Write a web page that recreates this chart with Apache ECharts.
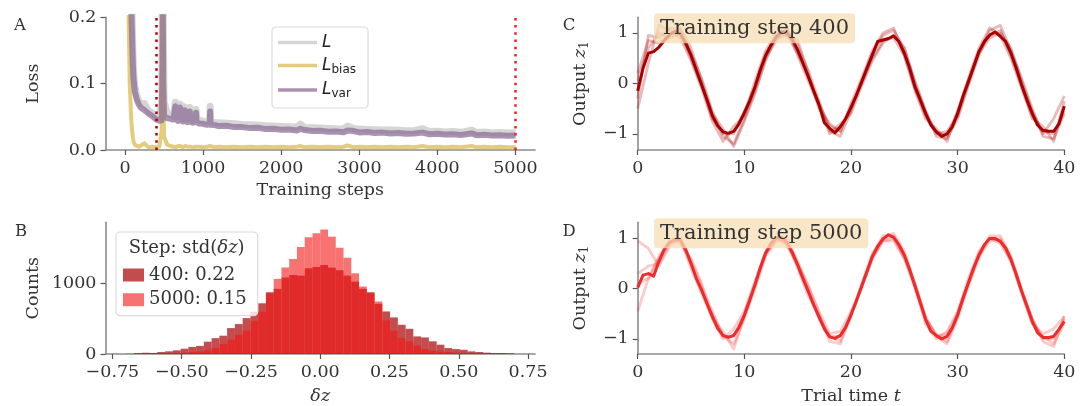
<!DOCTYPE html>
<html>
<head>
<meta charset="utf-8">
<script src="https://cdn.jsdelivr.net/npm/echarts@6.0.0/dist/echarts.min.js"></script>
<style>
  html, body { margin: 0; padding: 0; background: #fff; }
  #chart { width: 1091px; height: 406px; }
</style>
</head>
<body>
<div id="chart"></div>
<script>
// ---- panel A: losses over training ----
const stepsA = [0, 40, 60, 80, 90, 100, 110, 125, 150, 175,
  200, 250, 300, 350, 400, 440, 470, 478, 484, 490,
  500, 540, 580, 620, 640, 645, 650, 680, 700, 705,
  710, 740, 760, 765, 770, 800, 825, 830, 835, 870,
  905, 910, 915, 950, 1000, 1050, 1085, 1090, 1095, 1150,
  1200, 1300, 1400, 1500, 1600, 1700, 1800, 1900, 2000, 2100,
  2200, 2245, 2300, 2400, 2500, 2600, 2700, 2800, 2850, 2930,
  3000, 3100, 3200, 3300, 3400, 3500, 3600, 3700, 3810, 3900,
  4000, 4100, 4200, 4300, 4440, 4500, 4600, 4700, 4800, 4900,
  5000];
const lossTotal = [1.8, 0.75, 0.42, 0.265, 0.20, 0.15, 0.117, 0.096, 0.082, 0.074,
  0.070, 0.070, 0.059, 0.056, 0.050, 0.049, 0.075, 0.24, 0.42, 0.18,
  0.072, 0.056, 0.053, 0.051, 0.054, 0.072, 0.050, 0.050, 0.051, 0.069,
  0.051, 0.047, 0.050, 0.065, 0.050, 0.047, 0.048, 0.064, 0.049, 0.045,
  0.048, 0.061, 0.048, 0.045, 0.0435, 0.043, 0.045, 0.066, 0.043, 0.0415,
  0.041, 0.0405, 0.0395, 0.0385, 0.038, 0.0375, 0.0365, 0.036, 0.0355, 0.035,
  0.0345, 0.039, 0.034, 0.0335, 0.033, 0.0325, 0.032, 0.0318, 0.036, 0.0325,
  0.0315, 0.031, 0.0305, 0.030, 0.030, 0.0296, 0.029, 0.029, 0.032, 0.028,
  0.0284, 0.0272, 0.0278, 0.0266, 0.030, 0.0264, 0.027, 0.0258, 0.0264, 0.0255,
  0.026];
const lossBias = [0.9, 0.25, 0.10, 0.045, 0.03, 0.02, 0.012, 0.008, 0.006, 0.005,
  0.006, 0.010, 0.004, 0.005, 0.004, 0.005, 0.030, 0.12, 0.21, 0.08,
  0.020, 0.008, 0.006, 0.005, 0.007, 0.005, 0.004, 0.006, 0.005, 0.004,
  0.006, 0.004, 0.005, 0.004, 0.006, 0.005, 0.004, 0.005, 0.006, 0.004,
  0.005, 0.004, 0.006, 0.005, 0.004, 0.005, 0.006, 0.008, 0.005, 0.004,
  0.005, 0.004, 0.005, 0.004, 0.005, 0.004, 0.005, 0.004, 0.005, 0.004,
  0.005, 0.006, 0.004, 0.005, 0.004, 0.005, 0.004, 0.005, 0.007, 0.004,
  0.005, 0.004, 0.005, 0.004, 0.005, 0.004, 0.005, 0.004, 0.006, 0.004,
  0.005, 0.004, 0.005, 0.004, 0.006, 0.004, 0.005, 0.004, 0.005, 0.004,
  0.004];
const lossVar = [0.9, 0.5, 0.32, 0.22, 0.17, 0.13, 0.105, 0.088, 0.076, 0.069,
  0.064, 0.060, 0.055, 0.051, 0.046, 0.044, 0.045, 0.12, 0.21, 0.10,
  0.052, 0.048, 0.047, 0.046, 0.047, 0.066, 0.046, 0.044, 0.046, 0.064,
  0.045, 0.043, 0.045, 0.060, 0.044, 0.042, 0.044, 0.058, 0.043, 0.041,
  0.043, 0.056, 0.042, 0.040, 0.0395, 0.038, 0.039, 0.058, 0.038, 0.0375,
  0.036, 0.0365, 0.0345, 0.0345, 0.033, 0.0335, 0.0315, 0.032, 0.0305, 0.0310,
  0.0295, 0.032, 0.0300, 0.0285, 0.0290, 0.0275, 0.0280, 0.0268, 0.0295, 0.0285,
  0.0265, 0.0270, 0.0255, 0.0262, 0.0250, 0.0256, 0.0244, 0.0250, 0.0262, 0.0238,
  0.0244, 0.0232, 0.0238, 0.0226, 0.0250, 0.0224, 0.0230, 0.0218, 0.0224, 0.0215,
  0.0220];
const markSteps = [400, 5000];
const stepTicks = [0, 1000, 2000, 3000, 4000, 5000];
const lossTicks = [0, 0.1, 0.2];

// ---- panel B: histograms of delta z ----
const binEdges = [-0.700, -0.672, -0.644, -0.616, -0.588, -0.560, -0.532, -0.504, -0.476, -0.448,
  -0.420, -0.392, -0.364, -0.336, -0.308, -0.280, -0.252, -0.224, -0.196, -0.168,
  -0.140, -0.112, -0.084, -0.056, -0.028, 0.000, 0.028, 0.056, 0.084, 0.112,
  0.140, 0.168, 0.196, 0.224, 0.252, 0.280, 0.308, 0.336, 0.364, 0.392,
  0.420, 0.448, 0.476, 0.504, 0.532, 0.560, 0.588, 0.616, 0.644, 0.672,
  0.700];
const counts400 = [3, 12, 18, 15, 28, 38, 52, 75, 100, 115,
  175, 225, 260, 368, 425, 510, 600, 720, 877, 925,
  1085, 1123, 1113, 1217, 1236, 1264, 1227, 1189, 1113, 1028,
  925, 877, 712, 604, 519, 415, 358, 250, 235, 180,
  132, 84, 70, 60, 37, 28, 19, 14, 14, 9];
const counts5000 = [0, 3, 5, 5, 8, 10, 14, 18, 25, 37,
  51, 84, 141, 202, 273, 330, 470, 600, 860, 1066,
  1227, 1349, 1519, 1656, 1713, 1769, 1666, 1510, 1368, 1146,
  958, 860, 745, 476, 330, 226, 179, 117, 70, 47,
  37, 28, 18, 14, 10, 8, 5, 5, 3, 2];
const stepLabels = ['400: 0.22', '5000: 0.15'];
const dzTicks = [-0.75, -0.5, -0.25, 0, 0.25, 0.5, 0.75];
const countTicks = [0, 1000];

// ---- panels C, D: output traces (main at dt 0.5, single trials at dt 1) ----
const mainC = [-0.15, 0.30, 0.60, 0.63, 0.72, 0.85, 0.97, 1.03, 0.98, 0.80,
  0.56, 0.26, -0.03, -0.33, -0.64, -0.84, -0.96, -0.99, -0.95, -0.80,
  -0.58, -0.35, -0.07, 0.27, 0.55, 0.76, 0.92, 1.03, 1.00, 0.87,
  0.66, 0.40, 0.13, -0.15, -0.42, -0.78, -0.89, -0.98, -0.86, -0.70,
  -0.48, -0.24, 0.03, 0.30, 0.56, 0.83, 0.86, 0.89, 0.94, 0.83,
  0.60, 0.30, -0.07, -0.33, -0.60, -0.83, -0.96, -1.05, -1.00, -0.86,
  -0.60, -0.26, 0.03, 0.33, 0.63, 0.83, 0.96, 1.02, 0.93, 0.83,
  0.60, 0.30, -0.03, -0.33, -0.60, -0.83, -0.93, -0.95, -0.95, -0.80,
  -0.45];
const tracesC = [
  [-0.30, 0.95, 0.90, 1.10, 1.05, 0.60, 0.10, -0.55, -1.05, -1.20, -0.70, -0.15, 0.45, 0.95, 1.05, 0.75, 0.25, -0.35, -0.95, -1.05, -0.55, 0.05, 0.60, 0.95, 1.05, 0.70, 0.05, -0.55, -1.05, -1.10, -0.70, -0.05, 0.55, 1.05, 1.15, 0.65, 0.10, -0.50, -1.05, -1.10, -0.60],
  [-0.50, 0.40, 1.15, 1.05, 0.90, 0.45, -0.10, -0.75, -1.15, -0.85, -0.65, 0.05, 0.65, 1.00, 0.95, 0.85, 0.20, -0.50, -0.80, -0.95, -0.40, 0.10, 0.65, 1.00, 1.10, 0.55, -0.15, -0.70, -0.90, -1.15, -0.55, 0.10, 0.70, 1.10, 0.95, 0.50, -0.10, -0.70, -0.85, -1.15, -0.35],
  [0.20, 0.85, 0.80, 0.95, 1.10, 0.70, 0.05, -0.60, -0.90, -1.25, -0.75, -0.20, 0.50, 0.85, 1.10, 0.55, 0.05, -0.45, -1.00, -0.80, -0.60, -0.05, 0.45, 0.80, 0.95, 0.70, 0.00, -0.55, -1.00, -0.95, -0.65, 0.00, 0.60, 0.90, 1.00, 0.70, 0.05, -0.55, -1.00, -0.70, -0.25],
  [0.05, 0.70, 1.00, 0.90, 1.00, 0.50, -0.05, -0.70, -1.00, -1.00, -0.55, -0.05, 0.60, 0.90, 0.95, 0.60, 0.15, -0.40, -0.85, -0.95, -0.45, 0.00, 0.50, 0.85, 0.90, 0.55, -0.10, -0.65, -0.95, -1.05, -0.55, 0.05, 0.65, 0.95, 1.05, 0.55, -0.05, -0.65, -0.95, -1.00, -0.55]
];
const mainD = [0.02, 0.27, 0.30, 0.25, 0.55, 0.78, 0.92, 0.99, 0.96, 0.78,
  0.50, 0.20, -0.03, -0.30, -0.55, -0.79, -0.93, -0.97, -0.93, -0.77,
  -0.53, -0.23, 0.08, 0.42, 0.71, 0.90, 1.01, 1.02, 0.91, 0.72,
  0.47, 0.20, -0.06, -0.32, -0.56, -0.80, -0.96, -0.99, -0.93, -0.77,
  -0.52, -0.25, 0.05, 0.34, 0.64, 0.84, 0.99, 1.07, 1.02, 0.87,
  0.67, 0.38, 0.05, -0.28, -0.62, -0.85, -0.93, -1.00, -0.95, -0.78,
  -0.52, -0.19, 0.11, 0.41, 0.67, 0.87, 1.00, 1.00, 0.94, 0.81,
  0.58, 0.28, -0.05, -0.35, -0.65, -0.88, -0.97, -0.97, -0.95, -0.81,
  -0.65];
const tracesD = [
  [0.95, 0.80, 0.45, 0.85, 1.00, 0.55, 0.05, -0.45, -0.95, -1.10, -0.60, 0.00, 0.65, 0.95, 1.00, 0.55, 0.05, -0.50, -1.05, -1.10, -0.55, 0.10, 0.70, 1.05, 1.10, 0.75, 0.10, -0.55, -0.95, -1.10, -0.60, 0.05, 0.60, 1.05, 1.05, 0.65, 0.00, -0.60, -1.05, -1.15, -0.55],
  [-0.45, 0.20, 0.60, 0.95, 0.90, 0.60, 0.10, -0.60, -1.00, -0.80, -0.45, 0.15, 0.75, 1.05, 0.85, 0.50, 0.05, -0.45, -0.90, -0.85, -0.45, 0.00, 0.60, 0.95, 1.00, 0.60, 0.00, -0.70, -1.00, -0.85, -0.45, 0.20, 0.75, 1.00, 0.90, 0.55, -0.10, -0.70, -0.90, -0.80, -0.55],
  [0.30, 0.45, 0.50, 0.90, 1.00, 0.40, -0.10, -0.60, -0.85, -1.20, -0.55, 0.05, 0.70, 0.95, 0.95, 0.40, -0.15, -0.55, -0.95, -1.05, -0.50, 0.05, 0.60, 0.95, 0.95, 0.60, 0.10, -0.60, -0.90, -1.05, -0.55, 0.10, 0.65, 0.95, 1.00, 0.60, -0.05, -0.60, -1.00, -1.00, -0.60],
  [0.10, 0.20, 0.65, 0.95, 0.95, 0.50, -0.05, -0.50, -0.95, -0.95, -0.50, 0.10, 0.70, 1.00, 0.90, 0.45, -0.05, -0.60, -0.95, -0.95, -0.55, 0.05, 0.65, 1.00, 1.05, 0.65, 0.05, -0.60, -0.95, -0.90, -0.50, 0.10, 0.70, 1.00, 0.95, 0.55, -0.05, -0.70, -0.95, -1.10, -0.70]
];
const dtMain = 0.5;
const dtTrace = 1;
const timeTicks = [0, 10, 20, 30, 40];
const zTicks = [-1, 0, 1];

const SERIF = 'DejaVu Serif';
const TXT = '#333333';

function pairs(xs, ys) {
  return ys.map((y, i) => [xs[i], y]);
}
function timed(ys, dt) {
  return ys.map((y, i) => [i * dt, y]);
}
function hist(counts) {
  return counts.map((c, i) => [binEdges[i], binEdges[i + 1], c]);
}
function minus(s) {
  return s.replace('-', '\u2212');
}

function mkAxis(gi, min, max, ticks, fmt, name, gap, rich) {
  return {
    type: 'value', gridIndex: gi, min: min, max: max,
    splitLine: { show: false },
    axisLine: { show: true, onZero: false, lineStyle: { color: '#8c8c8c', width: 1.6 } },
    axisTick: { show: true, length: 5, customValues: ticks, lineStyle: { color: '#555', width: 1.2 } },
    axisLabel: { customValues: ticks, formatter: fmt, color: TXT, fontFamily: SERIF, fontSize: 17.5, margin: 9 },
    name: name || '', nameLocation: 'middle', nameGap: gap || 0,
    nameTextStyle: { color: TXT, fontFamily: SERIF, fontSize: 17.5, rich: rich || {} }
  };
}

const subRich = {
  i: { fontFamily: SERIF, fontStyle: 'italic', fontSize: 17.5, color: TXT },
  s: { fontFamily: SERIF, fontSize: 12, color: TXT, padding: [8, 0, 0, 0] }
};

function renderBin(params, api) {
  const top = api.coord([api.value(0), api.value(2)]);
  const base = api.coord([api.value(1), 0]);
  return {
    type: 'rect',
    shape: { x: top[0], y: top[1], width: base[0] - top[0], height: base[1] - top[1] },
    style: api.style()
  };
}

function traceSeries(list, axis, color) {
  return list.map(tr => ({
    type: 'line', xAxisIndex: axis, yAxisIndex: axis, data: timed(tr, dtTrace),
    symbol: 'none', silent: true,
    lineStyle: { color: color, width: 2.8, join: 'round' }
  }));
}

function letter(t, x, y) {
  return { type: 'text', x: x, y: y, z: 100,
    style: { text: t, fontFamily: SERIF, fontSize: 16.5, fill: TXT, align: 'center', verticalAlign: 'middle' } };
}

const chart = echarts.init(document.getElementById('chart'));

const option = {
  animation: false,
  backgroundColor: '#fff',
  grid: [
    { left: 105.5, top: 17.3, width: 429.5, height: 132.7 },
    { left: 105.5, top: 222.3, width: 429.5, height: 132 },
    { left: 637.7, top: 17.3, width: 426.6, height: 132.7 },
    { left: 637.7, top: 222.3, width: 426.6, height: 132 }
  ],
  xAxis: [
    mkAxis(0, -250, 5250, stepTicks, v => String(v), 'Training steps', 31),
    mkAxis(1, -0.775, 0.775, dzTicks, v => minus(v.toFixed(2)), '{i|\u03b4z}', 33, subRich),
    mkAxis(2, 0, 40, timeTicks, v => String(v)),
    mkAxis(3, 0, 40, timeTicks, v => String(v), 'Trial time {i|t}', 33, subRich)
  ],
  yAxis: [
    mkAxis(0, 0, 0.2, lossTicks, v => v.toFixed(1), 'Loss', 63),
    mkAxis(1, 0, 1870, countTicks, v => String(v), 'Counts', 63),
    mkAxis(2, -1.32, 1.31, zTicks, v => minus(String(v)), 'Output {i|z}{s|1}', 47, subRich),
    mkAxis(3, -1.30, 1.32, zTicks, v => minus(String(v)), 'Output {i|z}{s|1}', 47, subRich)
  ],
  legend: [
    {
      data: ['L', 'L_bias', 'L_var'], orient: 'vertical', left: 272, top: 27,
      icon: 'rect', itemWidth: 39, itemHeight: 3.5, itemGap: 6, padding: [7, 12, 8, 6],
      backgroundColor: 'rgba(255,255,255,0.8)', borderColor: '#dcdcdc', borderWidth: 1.2, borderRadius: 4,
      selectedMode: false,
      formatter: n => n === 'L' ? '{i|L}' : '{i|L}{s|' + n.slice(2) + '}',
      textStyle: {
        color: '#222', fontFamily: 'DejaVu Sans', fontSize: 17,
        rich: {
          i: { fontFamily: 'DejaVu Sans', fontStyle: 'italic', fontSize: 17, color: '#222' },
          s: { fontFamily: 'DejaVu Sans', fontSize: 12, color: '#222', padding: [8, 0, 0, 0] }
        }
      }
    },
    {
      data: stepLabels, orient: 'vertical', left: 116, top: 232,
      itemWidth: 21, itemHeight: 13, itemGap: 6.7, padding: [34, 11, 7, 7], icon: 'rect',
      backgroundColor: 'rgba(255,255,255,0.8)', borderColor: '#dcdcdc', borderWidth: 1.2, borderRadius: 4,
      selectedMode: false,
      textStyle: { color: TXT, fontFamily: SERIF, fontSize: 18 }
    }
  ],
  graphic: [
    letter('A', 20, 26),
    letter('B', 21, 232),
    letter('C', 569, 26),
    letter('D', 569, 232),
    {
      type: 'text', x: 186.7, y: 248.3, z: 100,
      style: {
        text: 'Step: std({i|\u03b4z})', fontFamily: SERIF, fontSize: 18, fill: TXT, align: 'center', verticalAlign: 'middle',
        rich: { i: { fontFamily: SERIF, fontStyle: 'italic', fontSize: 18, fill: TXT } }
      }
    },
    {
      type: 'text', x: 654, y: 13.3, z: 100,
      style: {
        text: 'Training step 400', fontFamily: SERIF, fontSize: 21, lineHeight: 22, fill: TXT,
        backgroundColor: 'rgba(245,222,179,0.75)', borderRadius: 4, padding: [4, 6, 4, 6]
      }
    },
    {
      type: 'text', x: 654, y: 218.3, z: 100,
      style: {
        text: 'Training step 5000', fontFamily: SERIF, fontSize: 21, lineHeight: 22, fill: TXT,
        backgroundColor: 'rgba(245,222,179,0.75)', borderRadius: 4, padding: [4, 6, 4, 6]
      }
    }
  ],
  series: [
    {
      name: 'L', type: 'line', xAxisIndex: 0, yAxisIndex: 0, data: pairs(stepsA, lossTotal),
      symbol: 'none', itemStyle: { color: 'rgba(185,185,185,0.6)' },
      lineStyle: { color: 'rgba(185,185,185,0.6)', width: 7, join: 'round' }
    },
    {
      name: 'L_bias', type: 'line', xAxisIndex: 0, yAxisIndex: 0, data: pairs(stepsA, lossBias),
      symbol: 'none', itemStyle: { color: 'rgba(217,188,80,0.75)' },
      lineStyle: { color: 'rgba(217,188,80,0.75)', width: 4, join: 'round' }
    },
    {
      name: 'L_var', type: 'line', xAxisIndex: 0, yAxisIndex: 0, data: pairs(stepsA, lossVar),
      symbol: 'none', itemStyle: { color: 'rgba(142,111,149,0.75)' },
      lineStyle: { color: 'rgba(142,111,149,0.75)', width: 6, join: 'round' },
      markLine: {
        symbol: 'none', silent: true, label: { show: false },
        lineStyle: { type: [2.5, 4.7], width: 2.5, opacity: 1 },
        data: [
          { xAxis: markSteps[0], lineStyle: { color: '#b00000', type: [2.5, 4.7], width: 2.5 } },
          { xAxis: markSteps[1], lineStyle: { color: '#ee2222', type: [2.5, 4.7], width: 2.5 } }
        ]
      }
    },
    {
      name: stepLabels[0], type: 'custom', xAxisIndex: 1, yAxisIndex: 1, data: hist(counts400),
      encode: { x: [0, 1], y: 2 }, renderItem: renderBin, itemStyle: { color: 'rgba(170,0,0,0.7)' }
    },
    {
      name: stepLabels[1], type: 'custom', xAxisIndex: 1, yAxisIndex: 1, data: hist(counts5000),
      encode: { x: [0, 1], y: 2 }, renderItem: renderBin, itemStyle: { color: 'rgba(245,20,20,0.6)' }
    },
    ...traceSeries(tracesC, 2, 'rgba(170,0,0,0.27)'),
    {
      type: 'line', xAxisIndex: 2, yAxisIndex: 2, data: timed(mainC, dtMain), symbol: 'none',
      lineStyle: { color: '#a80000', width: 3, join: 'round' }
    },
    ...traceSeries(tracesD, 3, 'rgba(238,34,34,0.24)'),
    {
      type: 'line', xAxisIndex: 3, yAxisIndex: 3, data: timed(mainD, dtMain), symbol: 'none',
      lineStyle: { color: '#ee2a2a', width: 3, join: 'round' }
    }
  ]
};

chart.setOption(option);
</script>
</body>
</html>
